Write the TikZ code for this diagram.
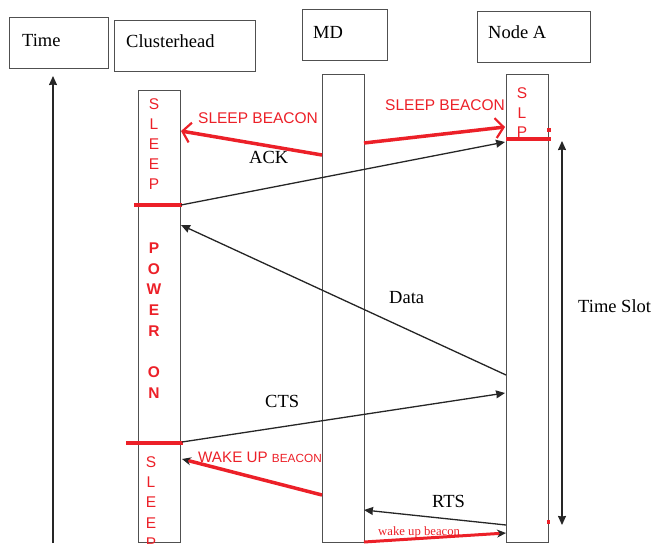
\documentclass[tikz,border=0pt]{standalone}
\usepackage{fontspec}
\setmainfont{Liberation Serif}
\newfontfamily\arialf{Liberation Sans}
\usetikzlibrary{arrows.meta}
\definecolor{beaconred}{RGB}{236,32,40}
\definecolor{boxgray}{RGB}{80,80,80}

\begin{document}
\begin{tikzpicture}[x=1pt,y=-1pt,>={Stealth[length=9pt,width=8pt,inset=0.5pt]},
  hdr/.style={draw=boxgray,line width=1.3pt,anchor=north west,inner sep=0pt},
  lbl/.style={anchor=base west,inner sep=0pt,font=\fontsize{18.5}{20}\selectfont},
  beacon/.style={anchor=base west,inner sep=0pt,text=beaconred,font=\arialf\fontsize{15.5}{18}\selectfont},
  vword/.style={anchor=north,inner sep=0pt,align=center,text=beaconred},
  msg/.style={->,line width=1.3pt,black!85},
  redmsg/.style={beaconred,line width=3.5pt},
  barb/.style={-{Straight Barb[length=8pt,width=20pt,line width=2.2pt]}},
  blacktip/.style={-{Stealth[length=9pt,width=8pt,color=black!85]}}]
  \useasboundingbox (0,0) rectangle (655,543);

  % headers
  \node[hdr,minimum width=99pt,minimum height=51pt] (timebox) at (9,17) {};
  \node[hdr,minimum width=141pt,minimum height=51pt] (chbox) at (114,20) {};
  \node[hdr,minimum width=85pt,minimum height=51pt] (mdbox) at (302,9) {};
  \node[hdr,minimum width=113pt,minimum height=51pt] (nabox) at (477,11) {};
  \node[lbl] (timetxt) at (22,46) {Time};
  \node[lbl] (chtxt) at (126,48) {Clusterhead};
  \node[lbl] (mdtxt) at (313,38) {MD};
  \node[lbl] (natxt) at (488,39) {Node A};

  % lifelines
  \node[hdr,minimum width=42pt,minimum height=452pt] (ch) at (138,90) {};
  \node[hdr,minimum width=42pt,minimum height=468pt] (md) at (322,74) {};
  \node[hdr,minimum width=42pt,minimum height=468pt] (na) at (506,74) {};

  % state letters
  \node[vword,font=\arialf\fontsize{15.5}{20}\selectfont] (chsleep1) at (154,98.5) {S\\L\\E\\E\\P};
  \node[vword,font=\arialf\bfseries\fontsize{15.5}{20.7}\selectfont] (chpower) at (154,242.5) {P\\O\\W\\E\\R\\[20.7pt]O\\N};
  \node[vword,font=\arialf\fontsize{15.5}{20.2}\selectfont] (chsleep2) at (151,456.5) {S\\L\\E\\E\\P};
  \node[vword,font=\arialf\fontsize{15.5}{19.5}\selectfont] (naslp) at (522,87.5) {S\\L\\P};

  % time axes
  \coordinate (t0) at (53,543);
  \coordinate (t1) at (53,76);
  \draw[->,line width=1.3pt,black!85] (t0) -- (t1);
  \coordinate (tstop) at (562,141);
  \coordinate (tsbot) at (562,525);
  \draw[<->,line width=1.3pt,black!85] (tstop) -- (tsbot);
  \node[lbl] (tslot) at (578,312) {Time Slot};

  % end points on the lifelines
  \coordinate (md-sb1) at (322,155);
  \coordinate (ch-sb) at (181,131);
  \coordinate (md-sb2) at (364,143);
  \coordinate (na-sb) at (505,127);
  \coordinate (ch-ack) at (181,205);
  \coordinate (na-ack) at (505,142);
  \coordinate (na-data) at (506,375);
  \coordinate (ch-data) at (181,225);
  \coordinate (ch-cts) at (182,442);
  \coordinate (na-cts) at (505,393);
  \coordinate (md-wu) at (322,495);
  \coordinate (ch-wu) at (182,459);
  \coordinate (na-rts) at (506,525);
  \coordinate (md-rts) at (364,510);
  \coordinate (md-wu2) at (364,542);
  \coordinate (na-wu2) at (506,533);

  % red state bars
  \coordinate (chbar1a) at (134,205);
  \coordinate (chbar1b) at (182,205);
  \coordinate (chbar2a) at (126,443);
  \coordinate (chbar2b) at (183,443);
  \coordinate (nabar-a) at (506,139);
  \coordinate (nabar-b) at (551,139);
  \draw[beaconred,line width=3.5pt] (chbar1a) -- (chbar1b);
  \draw[beaconred,line width=3.5pt] (chbar2a) -- (chbar2b);
  \draw[beaconred,line width=3.5pt] (nabar-a) -- (nabar-b);
  \fill[beaconred] (546.5,128) rectangle (550.5,132);
  \fill[beaconred] (547,520) rectangle (549.5,524);

  % messages
  \draw[redmsg,barb] (md-sb1) -- (ch-sb);
  \draw[redmsg,barb] (md-sb2) -- (na-sb);
  \node[beacon] (sb1txt) at (198,123) {SLEEP BEACON};
  \node[beacon] (sb2txt) at (385,110) {SLEEP BEACON};
  \draw[msg] (ch-ack) -- (na-ack);
  \node[lbl] (acktxt) at (249,163) {ACK};
  \draw[msg] (na-data) -- (ch-data);
  \node[lbl] (datatxt) at (389,303) {Data};
  \draw[msg] (ch-cts) -- (na-cts);
  \node[lbl] (ctstxt) at (265,407) {CTS};
  \draw[redmsg,blacktip] (md-wu) -- (ch-wu);
  \node[beacon] (wutxt) at (198,462) {{\fontsize{15.2}{18}\selectfont WAKE UP }{\fontsize{11.8}{14}\selectfont BEACON}};
  \draw[msg] (na-rts) -- (md-rts);
  \node[lbl] (rtstxt) at (432,507) {RTS};
  \draw[beaconred,line width=3pt,blacktip] (md-wu2) -- (na-wu2);
  \node[anchor=base west,inner sep=0pt,text=beaconred,font=\fontsize{12.7}{14}\selectfont] (wu2txt) at (378,535) {wake up beacon};
\end{tikzpicture}
\end{document}
